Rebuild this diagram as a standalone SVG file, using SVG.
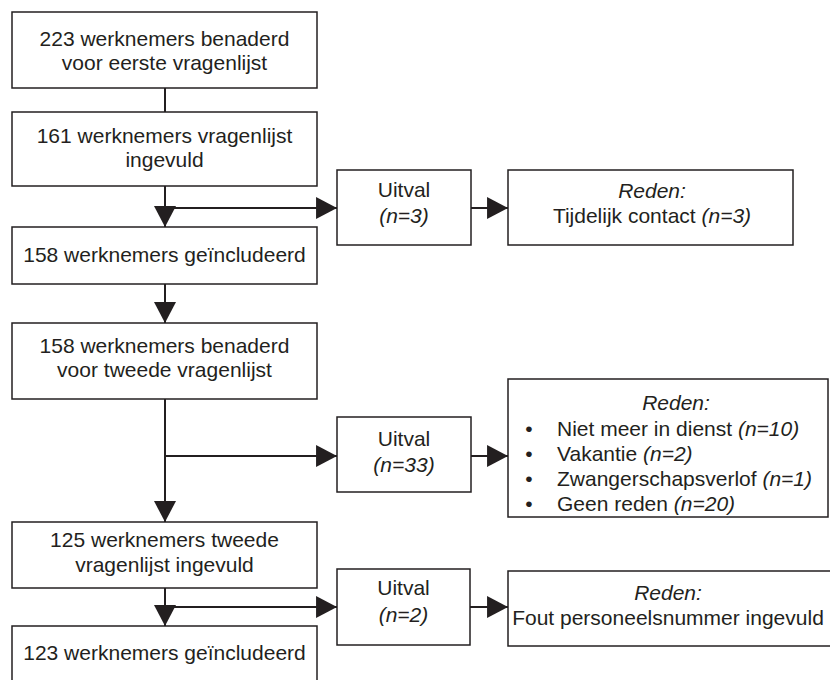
<svg xmlns="http://www.w3.org/2000/svg" width="830" height="680" viewBox="0 0 830 680">
<style>
.box{fill:#fff;stroke:#231f20;stroke-width:1.5}
.t{font-family:"Liberation Sans",Arial,sans-serif;font-size:21px;fill:#231f20;text-anchor:middle}
.l{text-anchor:start}
.i{font-style:italic}
.c{stroke:#231f20;stroke-width:2;fill:none}
</style>
<defs>
<marker id="ah" markerUnits="userSpaceOnUse" markerWidth="22" markerHeight="22" refX="20" refY="10.5" orient="auto" viewBox="0 0 21 21">
<path d="M0,0 L20,10.5 L0,21 Z" fill="#231f20"/>
</marker>
</defs>
<rect width="830" height="680" fill="#fff"/>
<g id="connectors">
<line class="c" x1="165" y1="88" x2="165" y2="112"/>
<line class="c" x1="165" y1="186" x2="165" y2="227" marker-end="url(#ah)"/>
<line class="c" x1="165" y1="208" x2="337" y2="208" marker-end="url(#ah)"/>
<line class="c" x1="471" y1="208" x2="508" y2="208" marker-end="url(#ah)"/>
<line class="c" x1="165" y1="284" x2="165" y2="323" marker-end="url(#ah)"/>
<line class="c" x1="165" y1="399" x2="165" y2="522" marker-end="url(#ah)"/>
<line class="c" x1="165" y1="456" x2="337" y2="456" marker-end="url(#ah)"/>
<line class="c" x1="471" y1="456" x2="508" y2="456" marker-end="url(#ah)"/>
<line class="c" x1="165" y1="588" x2="165" y2="626" marker-end="url(#ah)"/>
<line class="c" x1="165" y1="607" x2="337" y2="607" marker-end="url(#ah)"/>
<line class="c" x1="470" y1="607" x2="508" y2="607" marker-end="url(#ah)"/>
</g>
<g id="n1">
<rect class="box" x="12" y="12" width="305" height="76"/>
<text class="t" x="164.5" y="46">223 werknemers benaderd</text>
<text class="t" x="164.5" y="70">voor eerste vragenlijst</text>
</g>
<g id="n2">
<rect class="box" x="12" y="112" width="305" height="74"/>
<text class="t" x="164.5" y="143">161 werknemers vragenlijst</text>
<text class="t" x="164.5" y="167">ingevuld</text>
</g>
<g id="n3">
<rect class="box" x="12" y="227" width="305" height="57"/>
<text class="t" x="164.5" y="262">158 werknemers geïncludeerd</text>
</g>
<g id="u1">
<rect class="box" x="337" y="170" width="134" height="75"/>
<text class="t" x="404" y="197">Uitval</text>
<text class="t i" x="404" y="223">(n=3)</text>
</g>
<g id="r1">
<rect class="box" x="508" y="170" width="285" height="75"/>
<text class="t i" x="652" y="198">Reden:</text>
<text class="t" x="652" y="223">Tijdelijk contact <tspan class="i">(n=3)</tspan></text>
</g>
<g id="n4">
<rect class="box" x="12" y="323" width="305" height="76"/>
<text class="t" x="164.5" y="353">158 werknemers benaderd</text>
<text class="t" x="164.5" y="377">voor tweede vragenlijst</text>
</g>
<g id="u2">
<rect class="box" x="337" y="417" width="134" height="75"/>
<text class="t" x="404" y="446">Uitval</text>
<text class="t i" x="404" y="472">(n=33)</text>
</g>
<g id="r2">
<rect class="box" x="508" y="379" width="320" height="138"/>
<text class="t i" x="676" y="410">Reden:</text>
<text class="t" x="529" y="436">•</text>
<text class="t l" x="557" y="436">Niet meer in dienst <tspan class="i">(n=10)</tspan></text>
<text class="t" x="529" y="461">•</text>
<text class="t l" x="557" y="461">Vakantie <tspan class="i">(n=2)</tspan></text>
<text class="t" x="529" y="486">•</text>
<text class="t l" x="557" y="486">Zwangerschapsverlof <tspan class="i">(n=1)</tspan></text>
<text class="t" x="529" y="511">•</text>
<text class="t l" x="557" y="511">Geen reden <tspan class="i">(n=20)</tspan></text>
</g>
<g id="n5">
<rect class="box" x="12" y="522" width="305" height="66"/>
<text class="t" x="164.5" y="547">125 werknemers tweede</text>
<text class="t" x="164.5" y="572">vragenlijst ingevuld</text>
</g>
<g id="u3">
<rect class="box" x="337" y="569" width="133" height="76"/>
<text class="t" x="403.5" y="595">Uitval</text>
<text class="t i" x="403.5" y="622">(n=2)</text>
</g>
<g id="r3">
<rect class="box" x="508" y="571" width="340" height="75"/>
<text class="t i" x="668" y="600">Reden:</text>
<text class="t" x="668" y="625">Fout personeelsnummer ingevuld</text>
</g>
<g id="n6">
<rect class="box" x="12" y="626" width="305" height="70"/>
<text class="t" x="164.5" y="660">123 werknemers geïncludeerd</text>
</g>
</svg>
